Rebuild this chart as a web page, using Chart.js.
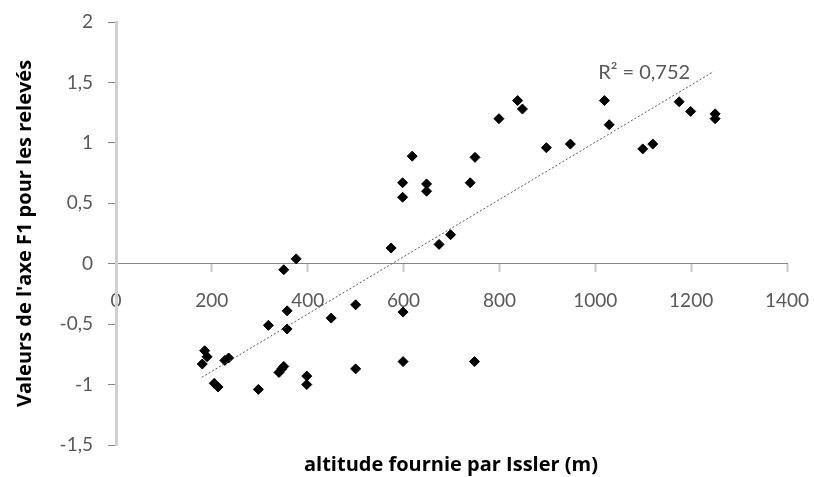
<!DOCTYPE html>
<html>
<head>
<meta charset="utf-8">
<script src="https://cdn.jsdelivr.net/npm/chart.js@4.4.1/dist/chart.umd.min.js"></script>
<style>
  html, body { margin: 0; padding: 0; background: #fff; }
  #wrap { width: 814px; height: 477px; }
</style>
</head>
<body>
<div id="wrap"><canvas id="chart"></canvas></div>
<script>
// altitude (m)
const altitudes = [
  180, 185, 190, 205, 213, 227, 235, 297, 318, 340,
  346, 350, 350, 357, 357, 376, 398, 398, 449, 500,
  500, 574, 598, 598, 599, 599, 618, 648, 648, 674,
  698, 739, 748, 749, 799, 838, 848, 898, 948, 1019,
  1029, 1099, 1120, 1175, 1199, 1250, 1250
];
// F1 axis values for each relevé
const f1Values = [
  -0.83, -0.72, -0.77, -0.99, -1.02, -0.80, -0.78, -1.04, -0.51, -0.90,
  -0.87, -0.85, -0.05, -0.39, -0.54, 0.04, -0.93, -1.00, -0.45, -0.34,
  -0.87, 0.13, 0.55, 0.67, -0.40, -0.81, 0.89, 0.60, 0.66, 0.16,
  0.24, 0.67, -0.81, 0.88, 1.20, 1.35, 1.28, 0.96, 0.99, 1.35,
  1.15, 0.95, 0.99, 1.34, 1.26, 1.24, 1.20
];
// linear trendline end points
const trendX = [179, 1247];
const trendY = [-0.94, 1.59];
const r2Label = 'R\u00b2 = 0,752';

const xTicks = [0, 200, 400, 600, 800, 1000, 1200, 1400];
const yTicks = [-1.5, -1, -0.5, 0, 0.5, 1, 1.5, 2];

const points = altitudes.map((a, i) => ({ x: a, y: f1Values[i] }));
const trend = trendX.map((a, i) => ({ x: a, y: trendY[i] }));

const FONT = 'Lato, "Open Sans", sans-serif';
const TITLE_FONT = '"Open Sans", Lato, sans-serif';

const extraText = {
  id: 'extraText',
  afterDraw(chart) {
    const { ctx, scales } = chart;
    ctx.save();
    // R² label near the end of the trendline
    ctx.font = '20px ' + FONT;
    ctx.fillStyle = '#595959';
    ctx.textAlign = 'center';
    ctx.textBaseline = 'middle';
    ctx.fillText(r2Label, scales.x.getPixelForValue(1102), scales.y.getPixelForValue(1.58));
    // x axis title at the bottom
    ctx.font = 'bold 20px ' + TITLE_FONT;
    ctx.fillStyle = '#000';
    ctx.fillText('altitude fournie par Issler (m)', 451, 465);
    ctx.restore();
  }
};

const noPadding = (s) => {
  s.paddingLeft = 0;
  s.paddingRight = 0;
  s.paddingTop = 0;
  s.paddingBottom = 0;
};

new Chart(document.getElementById('chart'), {
  type: 'scatter',
  data: {
    datasets: [
      {
        label: 'relevés',
        data: points,
        pointStyle: 'rectRot',
        pointRadius: 5,
        backgroundColor: '#000',
        borderColor: '#000',
        borderWidth: 1,
        order: 2,
      },
      {
        label: 'tendance',
        data: trend,
        showLine: true,
        pointRadius: 0,
        borderColor: '#595959',
        borderWidth: 1,
        borderDash: [2, 2],
        order: 1,
      },
    ],
  },
  options: {
    responsive: true,
    maintainAspectRatio: false,
    animation: false,
    layout: { padding: { left: 0, top: 22, right: 27, bottom: 32 } },
    plugins: {
      legend: { display: false },
      tooltip: { enabled: false },
    },
    scales: {
      x: {
        type: 'linear',
        position: { y: 0 },
        min: 0,
        max: 1400,
        afterBuildTicks: (s) => { s.ticks = xTicks.map(v => ({ value: v })); },
        afterFit: noPadding,
        ticks: {
          color: '#595959',
          font: { family: FONT, size: 19 },
          padding: 18,
          maxRotation: 0,
          callback: (v) => String(v),
        },
        grid: {
          drawOnChartArea: false,
          drawTicks: true,
          tickLength: 8,
          tickColor: '#c8c8c8',
          tickWidth: 2,
        },
        border: { color: '#868686', width: 1 },
      },
      y: {
        min: -1.5,
        max: 2,
        afterBuildTicks: (s) => { s.ticks = yTicks.map(v => ({ value: v })); },
        afterFit: (s) => { s.width = 116; noPadding(s); },
        ticks: {
          color: '#595959',
          font: { family: FONT, size: 19 },
          padding: 15,
          callback: (v) => String(v).replace('.', ','),
        },
        grid: {
          drawOnChartArea: false,
          drawTicks: true,
          tickLength: 8,
          tickColor: '#868686',
          tickWidth: 1,
        },
        border: { color: '#d0d0d0', width: 3 },
        title: {
          display: true,
          text: "Valeurs de l'axe F1 pour les relevés",
          color: '#000',
          font: { family: TITLE_FONT, size: 20, weight: 'bold' },
          padding: { top: 13, bottom: 0 },
        },
      },
    },
  },
  plugins: [extraText],
});
</script>
</body>
</html>
